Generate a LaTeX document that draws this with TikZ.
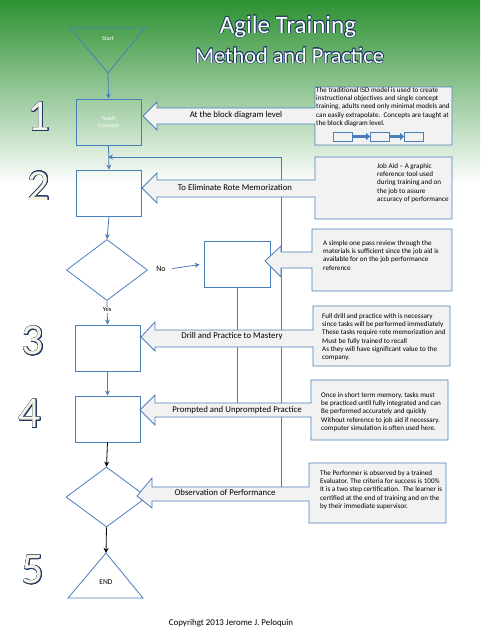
\documentclass[tikz,border=0pt]{standalone}
\usepackage{fontspec}
\setmainfont{Carlito}
\usepackage{contour}
\usetikzlibrary{shapes.geometric,arrows.meta}
\definecolor{bl}{RGB}{74,126,187}
\definecolor{navy}{RGB}{31,56,100}
\definecolor{cg}{RGB}{242,242,242}
\definecolor{g1}{RGB}{45,145,50}
\definecolor{g2}{RGB}{140,195,140}
\definecolor{cream}{RGB}{245,243,228}
\contourlength{0.6pt}
\begin{document}
\begin{tikzpicture}[x=1pt,y=-1pt,
  box/.style={draw=bl, line width=0.8pt, minimum width=65pt, minimum height=46pt, inner sep=0pt, font=\fontsize{6}{7}\selectfont, text=white, align=center},
  dia/.style={draw=bl, line width=0.8pt, shape=diamond, aspect=1.33, minimum width=81pt, minimum height=61pt, inner sep=0pt},
  flow/.style={draw=bl, line width=0.8pt, -{Stealth[length=5pt,width=5pt]}},
  bflow/.style={draw=black, line width=0.8pt, -{Stealth[length=5pt,width=5pt]}},
  plain/.style={draw=bl, line width=0.8pt},
  callout/.style={fill=cg, draw=bl, line width=0.8pt},
  ctext/.style={anchor=north west, inner sep=0pt, font=\fontsize{7.1}{8.3}\selectfont, align=left},
  lab/.style={font=\fontsize{8.8}{9.5}\selectfont},
  num/.style={font=\fontsize{44}{44}\selectfont, text=cream},
  ttl/.style={text=white, anchor=base},
  mini/.style={draw=bl, line width=0.8pt, fill=cg, minimum width=19pt, minimum height=9pt, inner sep=0pt, font=\fontsize{4}{4}\selectfont, text=white},
  miniarr/.style={draw=bl, line width=2.5pt, -{Triangle[length=4pt,width=7pt]}}
]
\useasboundingbox (0,0) rectangle (480,640);
\fill[white] (0,0) rectangle (480,640);
\shade[top color=g1, middle color=g2, bottom color=white] (0,0) rectangle (480,185);

% titles
\node[ttl, font=\fontsize{25}{25}\selectfont] (t1) at (288,33) {\contour{navy}{Agile Training}};
\node[ttl, font=\fontsize{22.3}{23}\selectfont] (t2) at (289.5,63) {\contour{navy}{Method and Practice}};

% numbers
\contourlength{0.45pt}
\node[num] (n1) at (39,117) {\contour{navy}{1}};
\node[num] (n2) at (39,186) {\contour{navy}{2}};
\node[num] (n3) at (33,341) {\contour{navy}{3}};
\node[num] (n4) at (30,414) {\contour{navy}{4}};
\node[num] (n5) at (33,570) {\contour{navy}{5}};

% start triangle
\coordinate (sapex) at (108,73);
\draw[plain] (70,28) -- (145,28) -- (sapex) -- cycle;
\node[font=\fontsize{6}{7}\selectfont, text=white] (start) at (108,39) {Start};

% boxes
\node[box] (tc) at (108.5,122) {Teach\\Concept};
\node[box] (task) at (109,193) {Task};
\node[box, minimum width=66pt] (nb) at (237,264) {};
\node[box] (b3) at (107.5,348) {};
\node[box] (b4) at (107.5,419) {};
\node[dia] (d1) at (107,270) {};
\node[dia, minimum height=60pt] (d2) at (106.5,497) {};

% end triangle
\coordinate (eapex) at (106,553);
\draw[plain] (eapex) -- (143,598) -- (68,598) -- cycle;
\node[font=\fontsize{7.5}{8}\selectfont] (endt) at (106,582) {END};

% connectors
\coordinate (j1) at (108,157);
\coordinate (lp) at (281.5,487);
\coordinate (pp) at (237,403);
\draw[flow] (sapex) -- (tc.north);
\draw[flow] (tc.south) -- (task.north);
\draw[flow] (lp) |- (j1);
\draw[flow] (task.south) -- (d1.north);
\node[lab, font=\fontsize{8}{9}\selectfont] (no) at (161,269) {No};
\draw[flow, shorten <=3pt, shorten >=4pt] (no.east) -- (nb.west);
\draw[flow] (d1.south) -- node[pos=0.38, fill=white, inner sep=1pt, font=\fontsize{6.5}{7}\selectfont] (yes) {Yes} (b3.north);
\draw[plain] (nb.south) -- (pp);
\draw[flow] (b3.south) -- (b4.north);
\draw[bflow] (b4.south) -- (d2.north);
\draw[bflow] (d2.south) -- (eapex);

% callout 1
\draw[callout] (315,87) -- (452,87) -- (452,145) -- (315,145) -- (315,124) -- (157,124) -- (157,130) -- (143,116) -- (157,102) -- (157,108) -- (315,108) -- cycle;
\node[lab] (l1) at (236,115) {At the block diagram level};
\node[ctext] (c1) at (316,87) {The traditional ISD model is used to create\\instructional objectives and single concept\\training, adults need only minimal models and\\can easily extrapolate.\ \ Concepts are taught at\\the block diagram level.};
\node[mini] (ma) at (342.5,136.5) {A};
\node[mini] (mb) at (380,136.5) {B};
\node[mini] (mc) at (414,136.5) {C};
\draw[miniarr] (ma.east) -- (mb.west);
\draw[miniarr] (mb.east) -- (mc.west);

% callout 2
\draw[callout] (315,157) -- (452,157) -- (452,219) -- (315,219) -- (315,197) -- (157,197) -- (157,203) -- (142,188) -- (157,173) -- (157,180) -- (315,180) -- cycle;
\node[lab] (l2) at (235,187) {To Eliminate Rote Memorization};
\node[ctext] (c2) at (377,163) {Job Aid -- A graphic\\reference tool used\\during training and on\\the job to assure\\accuracy of performance};

% callout 3
\draw[callout] (312,229) -- (452,229) -- (452,291) -- (312,291) -- (312,268) -- (281,268) -- (281,277) -- (265,261) -- (281,246) -- (281,252) -- (312,252) -- cycle;
\node[ctext] (c3) at (323,240) {A simple one pass review through the\\materials is sufficient since the job aid is\\available for on the job performance\\reference};

% callout 4
\draw[callout] (313,306) -- (450,306) -- (450,366) -- (313,366) -- (313,347) -- (155,347) -- (155,351) -- (141,337) -- (155,322) -- (155,330) -- (313,330) -- cycle;
\node[lab] (l4) at (232,336) {Drill and Practice to Mastery};
\node[ctext] (c4) at (322,313) {Full drill and practice with is necessary\\since tasks will be performed immediately\\These tasks require rote memorization and\\Must be fully trained to recall\\As they will have significant value to the\\company.};

% callout 5
\draw[callout] (311,380) -- (448,380) -- (448,440) -- (311,440) -- (311,417) -- (155,417) -- (155,425) -- (140,410) -- (155,395) -- (155,403) -- (311,403) -- cycle;
\node[lab] (l5) at (237,410) {Prompted and Unprompted Practice};
\node[ctext] (c5) at (321,392) {Once in short term memory, tasks must\\be practiced until fully integrated and can\\Be performed accurately and quickly\\Without reference to job aid if necessary.\\computer simulation is often used here.};

% callout 6
\draw[callout] (309,463) -- (446,463) -- (446,523) -- (309,523) -- (309,501) -- (152,501) -- (152,508) -- (137,496) -- (152,478) -- (152,487) -- (309,487) -- cycle;
\node[lab] (l6) at (225,492) {Observation of Performance};
\node[ctext] (c6) at (320,470) {The Performer is observed by a trained\\Evaluator. The criteria for success is 100\%\\It is a two step certification.\ \ The learner is\\certified at the end of training and on the\\by their immediate supervisor.};

% copyright
\node[font=\fontsize{8.9}{9.5}\selectfont] (copy) at (231,623) {Copyrihgt 2013 Jerome J. Peloquin};
\end{tikzpicture}
\end{document}
